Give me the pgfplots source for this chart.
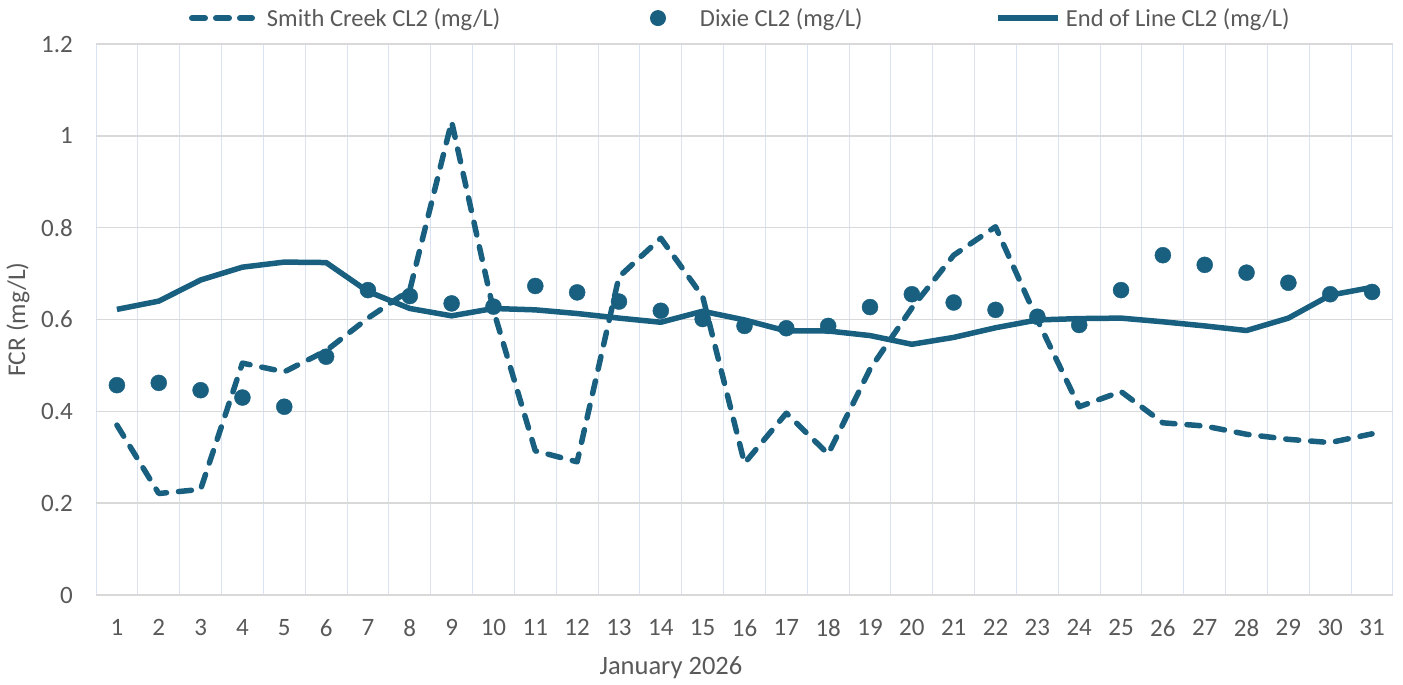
\documentclass[border=0pt]{standalone}
\usepackage{pgfplots}
\pgfplotsset{compat=1.18}
\usepackage{fontspec}
\setmainfont{Carlito}
\definecolor{series}{RGB}{24,95,128}
\definecolor{txt}{RGB}{89,89,89}
\definecolor{hgrid}{RGB}{217,217,217}
\definecolor{vgrid}{RGB}{216,226,240}
\begin{document}
\begin{tikzpicture}
\useasboundingbox (0,0) rectangle (1403pt,685pt);
\begin{axis}[
  at={(96pt,90pt)}, anchor=south west,
  scale only axis, width=1297pt, height=551pt,
  xmin=0.5, xmax=31.5, ymin=0, ymax=1.2,
  clip=false,
  xtick={1,...,31},
  ytick={0,0.2,0.4,0.6,0.8,1,1.2},
  yticklabels={0,0.2,0.4,0.6,0.8,1,1.2},
  minor xtick={0.5,1.5,2.5,3.5,4.5,5.5,6.5,7.5,8.5,9.5,10.5,11.5,12.5,13.5,14.5,15.5,16.5,17.5,18.5,19.5,20.5,21.5,22.5,23.5,24.5,25.5,26.5,27.5,28.5,29.5,30.5,31.5},
  xminorgrids=true, ymajorgrids=true, xmajorgrids=false,
  minor x grid style={vgrid, line width=1pt},
  major y grid style={hgrid, line width=1.5pt},
  axis line style={draw=none},
  major tick style={draw=none}, minor tick style={draw=none},
  /pgf/number format/assume math mode=true,
  tick label style={font=\fontsize{25}{30}\selectfont, text=txt},
  yticklabel style={inner sep=0pt, anchor=east, xshift=-23pt},
  xticklabel style={inner sep=0pt, anchor=north, yshift=-24pt},
  xlabel={January 2026}, ylabel={FCR (mg/L)},
  every axis x label/.style={at={(axis description cs:0.4433,-0.1325)}, anchor=center, font=\fontsize{26.5}{31}\selectfont, text=txt},
  every axis y label/.style={at={(axis description cs:-0.0601,0.5)}, rotate=90, anchor=center, font=\fontsize{25.5}{30}\selectfont, text=txt},
  legend columns=3, legend cell align=left,
  legend style={at={(axis description cs:0.0717,1.047)}, anchor=west, draw=none, fill=none,
    inner sep=0pt, outer sep=0pt,
    font=\fontsize{24.5}{29}\selectfont, text=txt, nodes={inner sep=0pt}, column sep=0pt,
    /tikz/every even column/.append style={column sep=0pt},
    /tikz/every odd column/.append style={column sep=0pt}},
]
\addplot[series, line width=5.5pt, dash pattern=on 13pt off 12pt, line cap=round, line join=round,
  legend image code/.code={\draw[series, line width=6pt, dash pattern=on 13pt off 11pt, line cap=round] (3pt,0pt) -- (63pt,0pt); \path[draw=none] (0pt,0pt) -- (78pt,0pt);}]
coordinates {
(1,0.370)(2,0.221)(3,0.230)(4,0.505)(5,0.486)(6,0.532)(7,0.603)(8,0.664)(9,1.031)(10,0.620)
(11,0.314)(12,0.290)(13,0.693)(14,0.777)(15,0.650)(16,0.287)(17,0.396)(18,0.307)(19,0.492)(20,0.625)
(21,0.740)(22,0.802)(23,0.599)(24,0.410)(25,0.443)(26,0.375)(27,0.368)(28,0.350)(29,0.339)(30,0.332)(31,0.351)
};
\addlegendentry{\makebox[373pt][l]{Smith Creek CL2 (mg/L)}}
\addplot[only marks, mark=*, mark size=8pt, mark options={fill=series, draw=series},
  legend image code/.code={\path[draw=none] (0pt,0pt) -- (60pt,0pt); \fill[series, draw=none] (18pt,0pt) circle (8pt);}]
coordinates {
(1,0.457)(2,0.462)(3,0.446)(4,0.430)(5,0.410)(6,0.519)(7,0.664)(8,0.651)(9,0.635)(10,0.628)
(11,0.673)(12,0.659)(13,0.639)(14,0.619)(15,0.601)(16,0.586)(17,0.581)(18,0.586)(19,0.627)(20,0.655)
(21,0.637)(22,0.621)(23,0.606)(24,0.588)(25,0.664)(26,0.740)(27,0.719)(28,0.702)(29,0.680)(30,0.655)(31,0.660)
};
\addlegendentry{\makebox[295pt][l]{Dixie CL2 (mg/L)}}
\addplot[series, line width=5.5pt, line join=round,
  legend image code/.code={\draw[series, line width=6pt] (0pt,0pt) -- (60pt,0pt); \path[draw=none] (0pt,0pt) -- (68pt,0pt);}]
coordinates {
(1,0.622)(2,0.640)(3,0.686)(4,0.714)(5,0.725)(6,0.724)(7,0.661)(8,0.624)(9,0.608)(10,0.624)
(11,0.621)(12,0.613)(13,0.603)(14,0.594)(15,0.618)(16,0.599)(17,0.575)(18,0.575)(19,0.565)(20,0.546)
(21,0.561)(22,0.582)(23,0.599)(24,0.602)(25,0.603)(26,0.595)(27,0.586)(28,0.576)(29,0.603)(30,0.653)(31,0.670)
};
\addlegendentry{End of Line CL2 (mg/L)}
\end{axis}
\end{tikzpicture}
\end{document}
